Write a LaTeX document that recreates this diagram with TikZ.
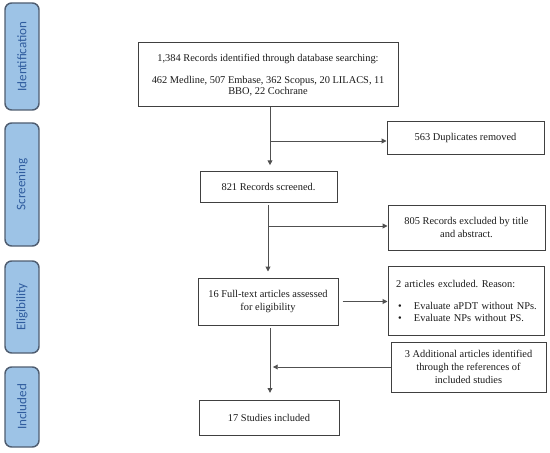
\documentclass[tikz,border=0pt]{standalone}
\usepackage{fontspec}
\setmainfont{Liberation Serif}
\newfontfamily\sidefont{Carlito}
\usetikzlibrary{arrows.meta,calc}
\definecolor{sidefill}{HTML}{9DC3E6}
\definecolor{sideedge}{HTML}{4F5D70}
\definecolor{sidetext}{HTML}{2F5C9E}
\definecolor{boxedge}{HTML}{404040}
\definecolor{linecol}{HTML}{505050}
\definecolor{txt}{HTML}{1A1A1A}
\frenchspacing
\begin{document}
\begin{tikzpicture}[x=0.75pt,y=-0.75pt,
  phase/.style={draw=sideedge, fill=sidefill, line width=1.1pt, rounded corners=5pt,
    minimum width=25.5pt, inner sep=0pt, text=sidetext,
    font=\sidefont\fontsize{9.8}{11}\selectfont},
  phasetext/.style={rotate=90, text=sidetext, font=\sidefont\fontsize{9.8}{11}\selectfont, inner sep=0pt},
  flowbox/.style={draw=boxedge, line width=0.75pt, align=center, inner sep=0pt, text=txt,
    font=\fontsize{7.8}{9.3}\selectfont},
  arr/.style={draw=linecol, line width=0.7pt, -{Triangle[length=3.6pt,width=3.6pt]}},
  ln/.style={draw=linecol, line width=0.7pt}
]
\useasboundingbox (0,0) rectangle (550,453);

% phase labels
\node[phase, minimum height=80.25pt] (pid) at (22,56.5) {};
\node[phasetext] (tid) at (pid.center) {Identification};
\node[phase, minimum height=92.25pt] (pscr) at (22,184.5) {};
\node[phasetext] (tscr) at (pscr.center) {Screening};
\node[phase, minimum height=69pt] (pel) at (22,307) {};
\node[phasetext] (tel) at (pel.center) {Eligibility};
\node[phase, minimum height=60pt] (pinc) at (22,407) {};
\node[phasetext] (tinc) at (pinc.center) {Included};

% flow boxes
\node[flowbox, minimum width=195pt, minimum height=48pt,
  font=\fontsize{7.8}{8.6}\selectfont] (b1) at (268,75)
  {1,384 Records identified through database searching:\\[8pt]
   462 Medline, 507 Embase, 362 Scopus, 20 LILACS, 11\\BBO, 22 Cochrane};
\node[flowbox, minimum width=117.75pt, minimum height=24pt] (dup) at (465.5,138)
  {563 Duplicates removed};
\node[flowbox, minimum width=102.75pt, minimum height=23.25pt] (s821) at (268.5,186.5)
  {821 Records screened.};
\node[flowbox, minimum width=117.75pt, minimum height=33.75pt] (e805) at (466.5,227.5)
  {805 Records excluded by title\\and abstract.};
\node[flowbox, minimum width=105pt, minimum height=35.25pt] (f16) at (268,301.5)
  {16 Full-text articles assessed\\for eligibility};
\node[flowbox, align=left, text width=105pt, inner xsep=6pt, minimum height=51.75pt,
  font=\fontsize{7.8}{9}\selectfont] (a2) at (466,300.5)
  {2 articles excluded. Reason:\\[7.5pt]
   \hspace*{1.5pt}\rlap{\textbullet}\hspace*{12pt}\mbox{Evaluate aPDT without NPs.}\\
   \hspace*{1.5pt}\rlap{\textbullet}\hspace*{12pt}\mbox{Evaluate NPs without PS.}};
\node[flowbox, minimum width=116.25pt, minimum height=37.5pt,
  font=\fontsize{7.8}{9.8}\selectfont] (add3) at (468.5,367)
  {3 Additional articles identified\\through the references of\\included studies};
\node[flowbox, minimum width=105pt, minimum height=26.25pt] (s17) at (269,417.5)
  {17 Studies included};

% connectors
\coordinate (t1) at (270,107);
\coordinate (j1) at (270,141);
\coordinate (j2) at (268,226);
\coordinate (j3) at (270,370);

\draw[arr, shorten >=4pt] (t1) -- (t1 |- s821.north);
\draw[arr] (j1) -- (j1 -| dup.west);
\draw[arr, shorten <=2.2pt, shorten >=4.5pt] (s821.south -| j2) -- (f16.north -| j2);
\draw[arr] (j2) -- (j2 -| e805.west);
\draw[arr, shorten <=3pt] (f16.east) -- (f16.east -| a2.west);
\draw[arr, shorten <=2.2pt, shorten >=5pt] (f16.south -| j3) -- (s17.north -| j3);
\draw[arr, shorten >=2.2pt] (add3.west) -- (add3.west -| j3);
\end{tikzpicture}
\end{document}
